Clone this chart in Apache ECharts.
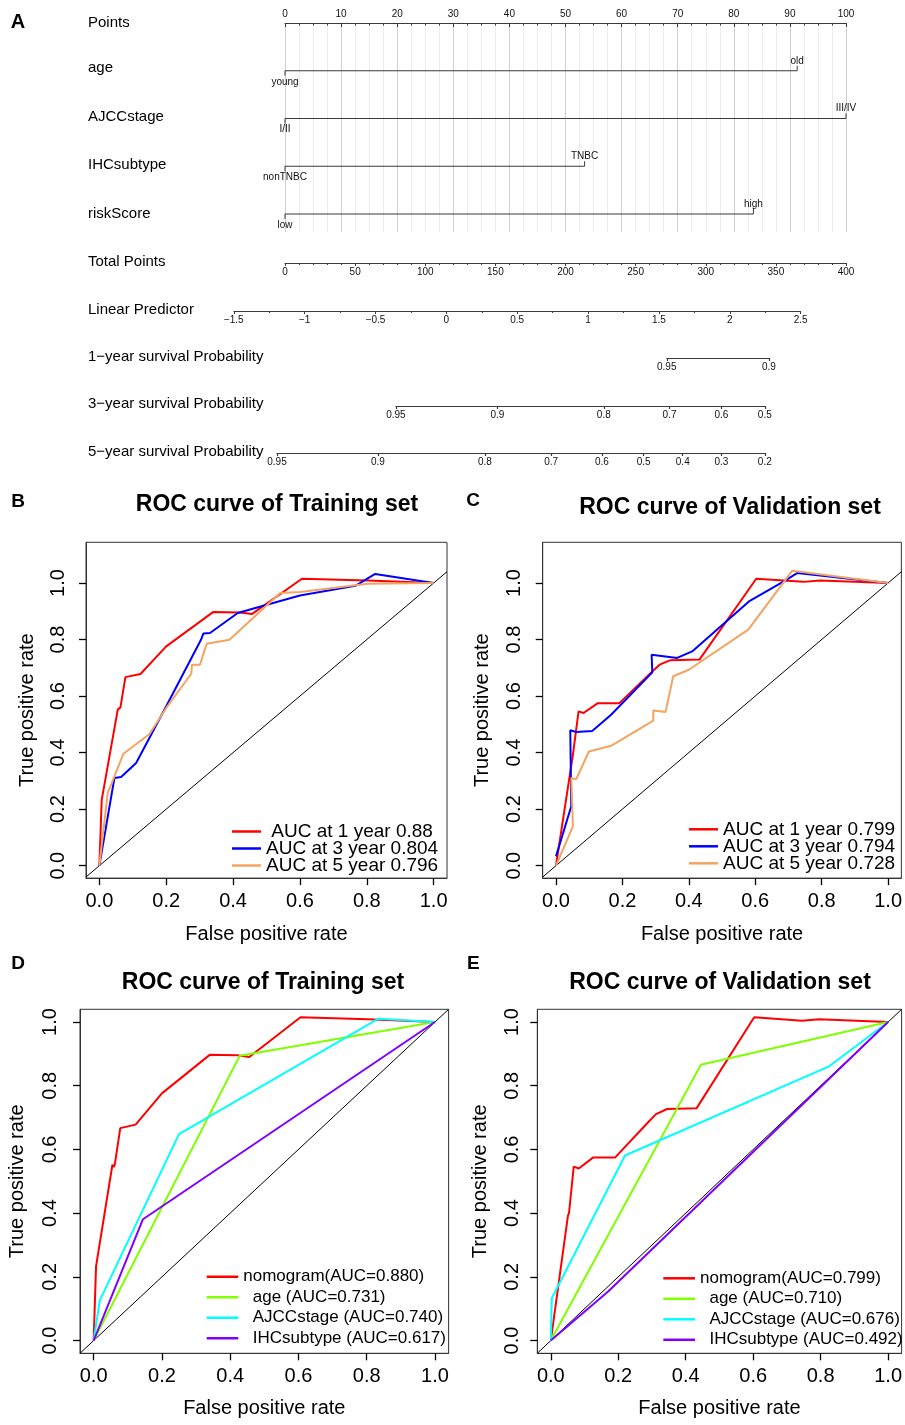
<!DOCTYPE html>
<html>
<head>
<meta charset="utf-8">
<script src="https://cdn.jsdelivr.net/npm/echarts@6/dist/echarts.min.js"></script>
<style>
html, body { margin: 0; padding: 0; background: #fff; }
#c { width: 905px; height: 1425px; }
</style>
</head>
<body>
<div id="c"></div>
<script>
// ---------- Panel A: nomogram ----------
const nomoVars = ['age', 'AJCCstage', 'IHCsubtype', 'riskScore'];
const nomoLow = ['young', 'I/II', 'nonTNBC', 'low'];
const nomoHigh = ['old', 'III/IV', 'TNBC', 'high'];
const nomoMaxPoints = [91.3, 100, 53.4, 83.5];

const pointsRange = [0, 100];
const totalPointsRange = [0, 400];
const lpRange = [-1.5, 2.5];

// survival probability scales: tick labels and their total-points position
const surv1Labels = ['0.95', '0.9'];
const surv1Pos = [272.2, 345.0];
const surv3Labels = ['0.95', '0.9', '0.8', '0.7', '0.6', '0.5'];
const surv3Pos = [79.1, 151.5, 227.3, 274.2, 311.2, 342.1];
const surv5Labels = ['0.95', '0.9', '0.8', '0.7', '0.6', '0.5', '0.4', '0.3', '0.2'];
const surv5Pos = [-5.7, 66.3, 142.5, 189.8, 226.0, 255.7, 283.6, 311.2, 342.1];

const rowLabels = ['Points', 'age', 'AJCCstage', 'IHCsubtype', 'riskScore', 'Total Points',
  'Linear Predictor', '1\u2212year survival Probability', '3\u2212year survival Probability',
  '5\u2212year survival Probability'];

// ---------- ROC curves ----------
const rocTicks = [0, 0.2, 0.4, 0.6, 0.8, 1.0];

// training set, nomogram at 1, 3, 5 years
const trainYear1 = [[0,0],[0.007,0.233],[0.055,0.552],[0.06,0.545],[0.063,0.56],[0.078,0.667],[0.123,0.678],[0.2,0.776],[0.34,0.897],[0.421,0.896],[0.456,0.89],[0.606,1.015],[0.803,1.009],[1,1]];
const trainYear3 = [[0,0],[0.045,0.31],[0.065,0.314],[0.11,0.363],[0.2,0.564],[0.304,0.799],[0.311,0.821],[0.331,0.823],[0.414,0.894],[0.501,0.923],[0.6,0.956],[0.766,0.99],[0.825,1.032],[1,1]];
const trainYear5 = [[0,0],[0.025,0.257],[0.072,0.396],[0.15,0.466],[0.2,0.558],[0.275,0.679],[0.277,0.711],[0.301,0.711],[0.321,0.785],[0.389,0.799],[0.541,0.965],[0.6,0.968],[0.803,0.997],[1,1]];
// validation set, nomogram at 1, 3, 5 years
const valYear1 = [[0,0],[0.051,0.393],[0.054,0.4],[0.068,0.546],[0.083,0.54],[0.126,0.575],[0.191,0.575],[0.29,0.687],[0.312,0.711],[0.345,0.727],[0.432,0.729],[0.603,1.015],[0.745,1.004],[0.795,1.009],[1,1]];
const valYear3 = [[0,0.033],[0.046,0.21],[0.043,0.479],[0.061,0.473],[0.109,0.476],[0.166,0.534],[0.29,0.684],[0.288,0.746],[0.365,0.735],[0.41,0.758],[0.581,0.935],[0.686,1.006],[0.726,1.035],[1,1]];
const valYear5 = [[0,0],[0.051,0.139],[0.046,0.31],[0.061,0.306],[0.099,0.404],[0.166,0.424],[0.293,0.513],[0.293,0.549],[0.33,0.544],[0.353,0.67],[0.4,0.693],[0.579,0.835],[0.711,1.043],[1,1]];
// single predictors
const trainAge = [[0,0],[0.428,0.894],[1,1]];
const trainAJCC = [[0,0],[0.018,0.126],[0.25,0.648],[0.833,1.01],[1,1]];
const trainIHC = [[0,0],[0.1445,0.381],[1,1]];
const valAge = [[0,0],[0.445,0.866],[1,1]];
const valAJCC = [[0,0],[0.003,0.133],[0.22,0.581],[0.825,0.861],[1,1]];
const valIHC = [[0,0],[0.17,0.154],[1,1]];

const namesB = [' AUC at 1 year 0.88', 'AUC at 3 year 0.804', 'AUC at 5 year 0.796'];
const namesC = ['AUC at 1 year 0.799', 'AUC at 3 year 0.794', 'AUC at 5 year 0.728'];
const namesD = ['nomogram(AUC=0.880)', '  age (AUC=0.731)', '  AJCCstage (AUC=0.740)', '  IHCsubtype (AUC=0.617)'];
const namesE = ['nomogram(AUC=0.799)', '  age (AUC=0.710)', '  AJCCstage (AUC=0.676)', '  IHCsubtype (AUC=0.492)'];

const COL = { red: '#FF0000', blue: '#0000FF', orange: '#F4A460', green: '#80FF00', cyan: '#00FFFF', purple: '#8000FF' };
const FONT = '"Liberation Sans", Arial, sans-serif';

const grids = [], xAxes = [], yAxes = [], series = [], legends = [], graphics = [];

function text(x, y, str, font, align, vAlign) {
  graphics.push({
    type: 'text', x: x, y: y, silent: true,
    style: { text: str, font: font, fill: '#000', textAlign: align || 'left', textVerticalAlign: vAlign || 'middle',
             align: align || 'left', verticalAlign: vAlign || 'middle' }
  });
}

// ----- nomogram layout -----
const PX0 = 285, PX_PER_TOTAL = 561 / 400;
const ROW_STEP = 47.75;
const nomoLine = { color: '#3a3a3a', width: 1 };
const tickFont = { fontSize: 10, color: '#111', fontFamily: FONT };

// Points axis + variable rows share one grid
grids.push({ left: PX0, top: 23, width: 561, height: 209 });
xAxes.push({
  gridIndex: 0, type: 'value', position: 'top', min: pointsRange[0], max: pointsRange[1], interval: 10,
  axisLine: { lineStyle: nomoLine },
  axisTick: { inside: true, length: 4, lineStyle: nomoLine },
  minorTick: { show: true, splitNumber: 4, length: 2.5, lineStyle: nomoLine },
  axisLabel: Object.assign({ margin: 4 }, tickFont),
  splitLine: { show: true, lineStyle: { color: '#cfcfcf', width: 1 } },
  minorSplitLine: { show: true, lineStyle: { color: '#ececec', width: 1 } }
});
yAxes.push({ gridIndex: 0, type: 'value', min: 0, max: 209 / ROW_STEP, inverse: true, show: false });

nomoVars.forEach(function (v, i) {
  series.push({
    type: 'line', name: v, xAxisIndex: 0, yAxisIndex: 0, silent: true,
    symbol: 'rect', symbolSize: [1, 5], itemStyle: { color: '#3a3a3a' },
    lineStyle: { color: '#3a3a3a', width: 1 },
    label: { show: true, fontSize: 10, color: '#111', fontFamily: FONT },
    data: [
      { value: [0, i + 1], symbolOffset: [0, 2.5], label: { position: 'bottom', distance: 1, formatter: nomoLow[i] } },
      { value: [nomoMaxPoints[i], i + 1], symbolOffset: [0, -2.5], label: { position: 'top', distance: 0, formatter: nomoHigh[i] } }
    ]
  });
});

function flatGrid(left, lineY, width) {
  grids.push({ left: left, top: lineY - 1, width: width, height: 1 });
  const gi = grids.length - 1;
  yAxes.push({ gridIndex: gi, type: 'value', show: false, min: 0, max: 1 });
  return gi;
}

// Total Points
let gi = flatGrid(PX0, 263, 561);
xAxes.push({
  gridIndex: gi, type: 'value', min: totalPointsRange[0], max: totalPointsRange[1], interval: 50,
  axisLine: { onZero: false, lineStyle: nomoLine }, axisTick: { length: 3, lineStyle: nomoLine },
  minorTick: { show: true, splitNumber: 5, length: 2, lineStyle: nomoLine },
  axisLabel: Object.assign({ margin: 4 }, tickFont), splitLine: { show: false }
});

// Linear Predictor (its own linear scale)
gi = flatGrid(233.8, 311, 566.8);
xAxes.push({
  gridIndex: gi, type: 'value', min: lpRange[0], max: lpRange[1], interval: 0.5,
  axisLine: { onZero: false, lineStyle: nomoLine }, axisTick: { length: 3, lineStyle: nomoLine },
  minorTick: { show: true, splitNumber: 2, length: 2, lineStyle: nomoLine },
  axisLabel: Object.assign({ margin: 4, formatter: function (v) { return String(v).replace('-', '\u2212'); } }, tickFont),
  splitLine: { show: false }
});

// Survival probability scales, placed on the total-points scale
function probAxis(lineY, pos, labels) {
  const left = PX0 + pos[0] * PX_PER_TOTAL;
  const width = (pos[pos.length - 1] - pos[0]) * PX_PER_TOTAL;
  const g = flatGrid(left, lineY, width);
  xAxes.push({
    gridIndex: g, type: 'value', min: pos[0], max: pos[pos.length - 1],
    axisLine: { show: true, onZero: false, lineStyle: nomoLine },
    axisTick: { show: true, customValues: pos, length: 3, lineStyle: { color: '#3a3a3a', width: 1.2 } },
    axisLabel: Object.assign({
      customValues: pos, margin: 4, hideOverlap: false,
      formatter: function (v) {
        let best = 0;
        pos.forEach(function (p, k) { if (Math.abs(p - v) < Math.abs(pos[best] - v)) best = k; });
        return labels[best];
      }
    }, tickFont),
    splitLine: { show: false }
  });
}
probAxis(358, surv1Pos, surv1Labels);
probAxis(406, surv3Pos, surv3Labels);
probAxis(453, surv5Pos, surv5Labels);

const rowLabelY = [23, 68, 117, 165, 214, 262, 310, 357, 404, 452];
rowLabels.forEach(function (s, i) { text(88, rowLabelY[i], s, '15px ' + FONT); });

// ----- ROC panels -----
function rocPanel(cfg) {
  grids.push({ left: cfg.left, top: cfg.top, width: cfg.width, height: cfg.height, show: true,
               borderColor: '#333', borderWidth: 1, backgroundColor: 'transparent' });
  const g = grids.length - 1;
  const edge = { show: true, onZero: false, lineStyle: { color: '#333', width: 1 } };
  const ticks = { show: true, customValues: rocTicks, length: 7, lineStyle: { color: '#000', width: 1.3 } };
  xAxes.push({
    gridIndex: g, type: 'value', min: -0.04, max: 1.04,
    axisLine: edge, splitLine: { show: false }, axisTick: ticks,
    axisLabel: { customValues: rocTicks, formatter: function (v) { return v.toFixed(1); },
                 fontSize: 20, color: '#000', fontFamily: FONT, margin: 13, hideOverlap: false },
    name: 'False positive rate', nameLocation: 'middle', nameGap: cfg.xNameGap,
    nameTextStyle: { fontSize: 20, color: '#000', fontFamily: FONT }
  });
  yAxes.push({
    gridIndex: g, type: 'value', min: cfg.yMin, max: cfg.yMax,
    axisLine: edge, splitLine: { show: false }, axisTick: ticks,
    axisLabel: { customValues: rocTicks, formatter: function (v) { return v.toFixed(1); }, rotate: 90,
                 fontSize: 20, color: '#000', fontFamily: FONT, margin: cfg.yLabelMargin, hideOverlap: false },
    name: 'True positive rate', nameLocation: 'middle', nameGap: cfg.yNameGap, nameRotate: 90,
    nameTextStyle: { fontSize: 20, color: '#000', fontFamily: FONT }
  });
  // reference diagonal
  series.push({
    type: 'line', xAxisIndex: g, yAxisIndex: g, silent: true, symbol: 'none',
    lineStyle: { color: '#000', width: 1 }, data: [[-0.04, -0.04], [1.04, 1.04]]
  });
  cfg.curves.forEach(function (c) {
    series.push({
      type: 'line', name: c.name, xAxisIndex: g, yAxisIndex: g, silent: true,
      symbol: 'none', showSymbol: false, color: c.color,
      lineStyle: { color: c.color, width: 2 }, data: c.data
    });
  });
  legends.push({
    orient: 'vertical', left: cfg.legend.left, top: cfg.legend.top, padding: 0,
    icon: 'rect', itemWidth: cfg.legend.itemWidth, itemHeight: 2.5, itemGap: cfg.legend.gap,
    selectedMode: false, data: cfg.curves.map(function (c) { return c.name; }),
    textStyle: { fontSize: cfg.legend.fontSize, color: '#000', fontFamily: FONT }
  });
  text(cfg.titleX, cfg.titleY, cfg.title, 'bold 23px ' + FONT, 'center');
  text(cfg.letterX, cfg.letterY, cfg.letter, 'bold 19px ' + FONT, 'center');
}

rocPanel({
  left: 86, top: 542.3, width: 361, height: 335.8, yMin: -0.044, yMax: 1.144,
  xNameGap: 46, yLabelMargin: 18, yNameGap: 49,
  title: 'ROC curve of Training set', titleX: 277, titleY: 505, letter: 'B', letterX: 18, letterY: 501.5,
  curves: [
    { name: namesB[0], data: trainYear1, color: COL.red },
    { name: namesB[1], data: trainYear3, color: COL.blue },
    { name: namesB[2], data: trainYear5, color: COL.orange }
  ],
  legend: { left: 232, top: 822, itemWidth: 29, gap: -2, fontSize: 19 }
});
rocPanel({
  left: 542.7, top: 542.3, width: 360.7, height: 335.8, yMin: -0.044, yMax: 1.144,
  xNameGap: 46, yLabelMargin: 18, yNameGap: 50,
  title: 'ROC curve of Validation set', titleX: 730, titleY: 508, letter: 'C', letterX: 473, letterY: 501,
  curves: [
    { name: namesC[0], data: valYear1, color: COL.red },
    { name: namesC[1], data: valYear3, color: COL.blue },
    { name: namesC[2], data: valYear5, color: COL.orange }
  ],
  legend: { left: 689, top: 819.8, itemWidth: 29, gap: -2, fontSize: 19 }
});
rocPanel({
  left: 80, top: 1009.3, width: 368.6, height: 344, yMin: -0.04, yMax: 1.04,
  xNameGap: 45, yLabelMargin: 20, yNameGap: 53,
  title: 'ROC curve of Training set', titleX: 263, titleY: 983, letter: 'D', letterX: 18, letterY: 963.5,
  curves: [
    { name: namesD[0], data: trainYear1, color: COL.red },
    { name: namesD[1], data: trainAge, color: COL.green },
    { name: namesD[2], data: trainAJCC, color: COL.cyan },
    { name: namesD[3], data: trainIHC, color: COL.purple }
  ],
  legend: { left: 206.7, top: 1268.2, itemWidth: 31.6, gap: 3.5, fontSize: 17 }
});
rocPanel({
  left: 537.3, top: 1009.3, width: 369.7, height: 344, yMin: -0.04, yMax: 1.04,
  xNameGap: 45, yLabelMargin: 15, yNameGap: 47,
  title: 'ROC curve of Validation set', titleX: 720, titleY: 983, letter: 'E', letterX: 473.3, letterY: 963.5,
  curves: [
    { name: namesE[0], data: valYear1, color: COL.red },
    { name: namesE[1], data: valAge, color: COL.green },
    { name: namesE[2], data: valAJCC, color: COL.cyan },
    { name: namesE[3], data: valIHC, color: COL.purple }
  ],
  legend: { left: 663.3, top: 1269.8, itemWidth: 31.7, gap: 3.5, fontSize: 17 }
});

text(18, 22, 'A', 'bold 20px ' + FONT, 'center');

const chart = echarts.init(document.getElementById('c'), null, { renderer: 'canvas', width: 905, height: 1425 });
chart.setOption({
  animation: false,
  backgroundColor: '#fff',
  textStyle: { fontFamily: FONT },
  grid: grids, xAxis: xAxes, yAxis: yAxes, series: series, legend: legends,
  graphic: { elements: graphics }
});
</script>
</body>
</html>
